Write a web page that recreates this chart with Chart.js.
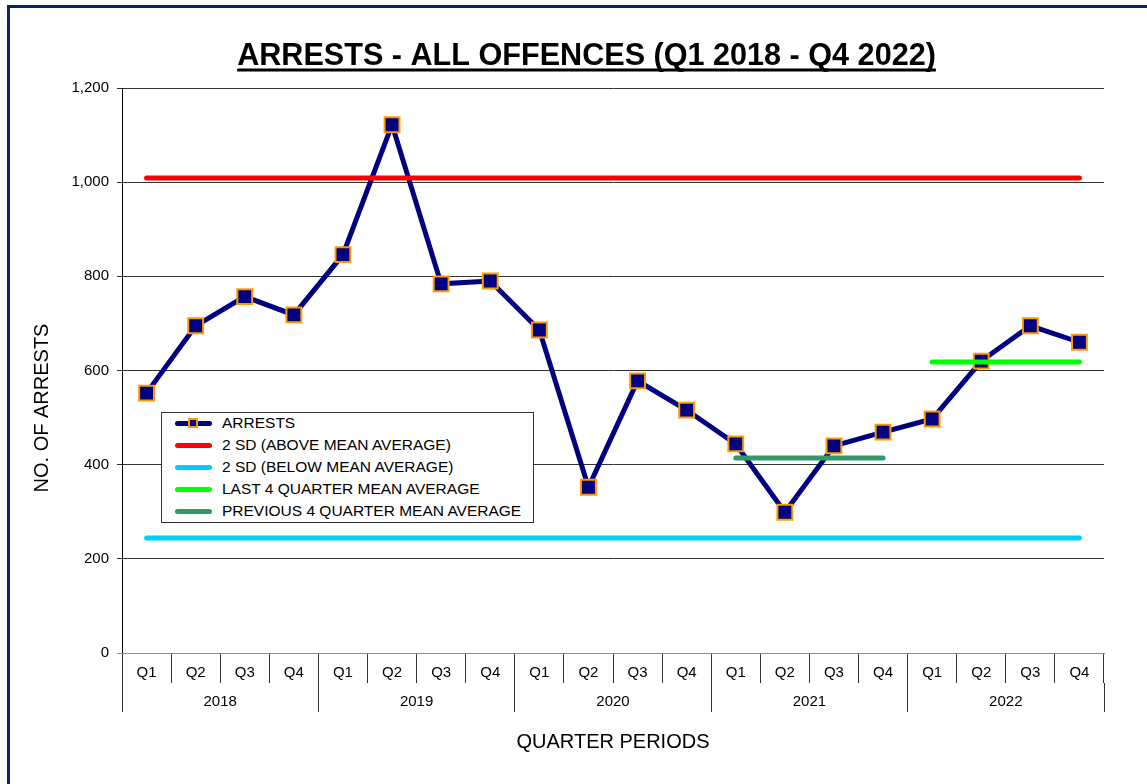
<!DOCTYPE html>
<html><head><meta charset="utf-8">
<script src="https://cdn.jsdelivr.net/npm/chart.js@4.4.1/dist/chart.umd.min.js"></script>
<style>
html,body{margin:0;padding:0;background:#fff;overflow:hidden;width:1147px;height:784px;}
#wrap{position:relative;width:1147px;height:784px;}
#c{position:absolute;left:0;top:0;}
#frame{position:absolute;left:7px;top:5px;width:1400px;height:1000px;border:3px solid #0c2366;pointer-events:none;}
#legend{position:absolute;left:161px;top:412px;width:371px;height:109px;border:1px solid #333;background:#fff;font:15.5px 'Liberation Sans',Arial,sans-serif;color:#000;}
.row{position:absolute;left:0;height:22px;line-height:22px;white-space:nowrap;}
.sw{position:absolute;left:13px;top:8.5px;width:37px;height:5px;border-radius:3px;}
.mk{position:absolute;left:25.5px;top:6px;width:6px;height:6px;border:2px solid #FF9900;}
.tx{position:absolute;left:60px;top:0;}
</style></head>
<body><div id="wrap"><canvas id="c" width="1147" height="784"></canvas><div id="legend"></div><div id="frame"></div></div>
<script>
const quarters = ['Q1','Q2','Q3','Q4'];
const years = ['2018','2019','2020','2021','2022'];
const arrests = [552,695,757,718, 846,1122,784,790, 686,352,578,516, 444,299,440,469, 497,620,695,660];
const sdAbove = 1009;
const sdBelow = 244;
const last4Mean = 618;
const prev4Mean = 414;
const yTicks = [0,200,400,600,800,1000,1200];
const chartTitle = 'ARRESTS - ALL OFFENCES (Q1 2018 - Q4 2022)';
const yTitle = 'NO. OF ARRESTS';
const xTitle = 'QUARTER PERIODS';
const seriesNames = ['ARRESTS','2 SD (ABOVE MEAN AVERAGE)','2 SD (BELOW MEAN AVERAGE)','LAST 4 QUARTER MEAN AVERAGE','PREVIOUS 4 QUARTER MEAN AVERAGE'];

const FONT = "'Liberation Sans', Arial, sans-serif";
const categories = years.flatMap(y => quarters.map(q => q + ' ' + y));
const first = categories[0], lastCat = categories[categories.length - 1];
const cat = (q, y) => q + ' ' + y;

const flat = (color) => ({borderColor: color, backgroundColor: color, borderWidth: 5, pointRadius: 0, borderCapStyle: 'round', fill: false});

const datasets = [
  {label: seriesNames[0], data: arrests, borderColor: '#000080', backgroundColor: '#000080', borderWidth: 5,
   pointStyle: 'rect', pointRadius: 10.5, pointBackgroundColor: '#000080', pointBorderColor: '#FF9900', pointBorderWidth: 2,
   tension: 0, fill: false, order: 10},
  Object.assign({label: seriesNames[1], data: [{x: first, y: sdAbove}, {x: lastCat, y: sdAbove}], order: 4}, flat('#FF0000')),
  Object.assign({label: seriesNames[2], data: [{x: first, y: sdBelow}, {x: lastCat, y: sdBelow}], order: 3}, flat('#00CCFF')),
  Object.assign({label: seriesNames[3], data: [{x: cat(quarters[0], years[4]), y: last4Mean}, {x: cat(quarters[3], years[4]), y: last4Mean}], order: 2}, flat('#00FF00')),
  Object.assign({label: seriesNames[4], data: [{x: cat(quarters[0], years[3]), y: prev4Mean}, {x: cat(quarters[3], years[3]), y: prev4Mean}], order: 1}, flat('#339966'))
];

const extras = {
  id: 'extras',
  afterDraw(chart) {
    const ctx = chart.ctx;
    ctx.save();
    ctx.fillStyle = '#000';
    ctx.font = 'bold 30.6px ' + FONT;
    ctx.textAlign = 'center';
    ctx.textBaseline = 'alphabetic';
    const cx = 586.5;
    ctx.fillText(chartTitle, cx, 64.5);
    const w = ctx.measureText(chartTitle).width;
    ctx.fillRect(cx - w / 2, 68.5, w, 3);
    ctx.translate(42, 408);
    ctx.rotate(-Math.PI / 2);
    ctx.font = '20px ' + FONT;
    ctx.textBaseline = 'middle';
    ctx.fillText(yTitle, 0, 0);
    ctx.restore();
  }
};

const chart = new Chart(document.getElementById('c'), {
  type: 'line',
  data: {labels: categories, datasets},
  options: {
    responsive: false,
    animation: false,
    events: [],
    devicePixelRatio: 1,
    layout: {padding: {top: 88, right: 43, bottom: 0, left: 0}},
    plugins: {legend: {display: false}, tooltip: {enabled: false}, title: {display: false}},
    scales: {
      y: {
        min: yTicks[0], max: yTicks[yTicks.length - 1],
        afterBuildTicks: s => { s.ticks = yTicks.map(v => ({value: v})); },
        afterFit: s => { s.width = 122; },
        ticks: {font: {family: FONT, size: 15}, color: '#000', padding: 8,
          callback: v => v.toLocaleString('en-US')},
        grid: {color: c => (c.tick && c.tick.value === 0) ? '#8c8c8c' : '#333', lineWidth: 1, tickLength: 5},
        border: {color: '#000', width: 1}
      },
      x: {
        type: 'category', offset: true, position: 'bottom',
        afterFit: s => { s.height = 30; },
        ticks: {font: {family: FONT, size: 15}, color: '#000', padding: -19, autoSkip: false, maxRotation: 0,
          callback: function(v) { return this.getLabelForValue(v).split(' ')[0]; }},
        grid: {offset: true, drawOnChartArea: false, tickLength: 30, color: '#333', lineWidth: 1},
        border: {color: '#8c8c8c', width: 1}
      },
      x2: {
        type: 'category', labels: years, offset: true, position: 'bottom',
        afterFit: s => { s.height = 101; },
        ticks: {font: {family: FONT, size: 15}, color: '#000', padding: -19, autoSkip: false, maxRotation: 0},
        grid: {offset: true, drawOnChartArea: false, tickLength: 29, color: '#333', lineWidth: 1},
        border: {display: false},
        title: {display: true, text: xTitle, font: {family: FONT, size: 20}, color: '#000', padding: {top: 0, bottom: 30}}
      }
    }
  },
  plugins: [extras]
});

const leg = document.getElementById('legend');
chart.data.datasets.forEach((ds, i) => {
  const row = document.createElement('div');
  row.className = 'row';
  row.style.top = (-1 + i * 22) + 'px';
  const sw = document.createElement('div');
  sw.className = 'sw';
  sw.style.background = ds.borderColor;
  row.appendChild(sw);
  if (ds.pointRadius > 0) {
    const mk = document.createElement('div');
    mk.className = 'mk';
    mk.style.background = ds.pointBackgroundColor;
    mk.style.borderColor = ds.pointBorderColor;
    row.appendChild(mk);
  }
  const tx = document.createElement('span');
  tx.className = 'tx';
  tx.textContent = ds.label;
  row.appendChild(tx);
  leg.appendChild(row);
});
</script>
</body></html>
